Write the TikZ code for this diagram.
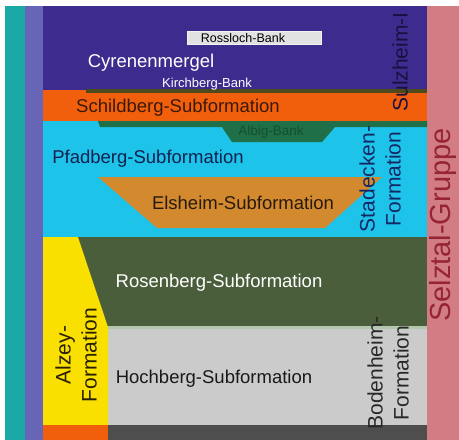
\documentclass[tikz,border=0pt]{standalone}
\usepackage{fontspec}
\setmainfont{Liberation Sans}
\definecolor{cteal}{HTML}{1AA9A5}
\definecolor{cperi}{HTML}{6766B6}
\definecolor{cpurple}{HTML}{3D2B8E}
\definecolor{corange}{HTML}{F15F0C}
\definecolor{colive}{HTML}{4C4A1C}
\definecolor{calbig}{HTML}{1F7048}
\definecolor{ccyan}{HTML}{1EC3EA}
\definecolor{celsheim}{HTML}{D38A2F}
\definecolor{cgreen}{HTML}{4A5E3B}
\definecolor{cyellow}{HTML}{FAE000}
\definecolor{cgrey}{HTML}{CBCBCB}
\definecolor{cdgrey}{HTML}{4E4E4E}
\definecolor{cpink}{HTML}{D27C84}
\definecolor{cpale}{HTML}{B3C6AE}
\definecolor{cbox}{HTML}{E2E2E2}
\definecolor{cselz}{HTML}{962434}
\tikzset{
  lbl/.style={inner sep=0pt, anchor=base, font=\fontsize{18.5}{22}\selectfont},
  small/.style={inner sep=0pt, anchor=base, font=\fontsize{12.5}{15}\selectfont},
  vlbl/.style={inner sep=0pt, rotate=90, align=center, font=\fontsize{21}{26}\selectfont}
}
\begin{document}
\begin{tikzpicture}[x=1pt,y=-1pt]
\useasboundingbox (0,0) rectangle (459,440);
\fill[white] (0,0) rectangle (459,440);
% side columns
\fill[cteal] (5,6) rectangle (25,440);
\fill[cperi] (25,6) rectangle (43,440);
\fill[cpink] (427,6) rectangle (459,440);
% layers
\fill[cpurple] (43,6) rectangle (427,92);
\fill[corange] (43,90) rectangle (427,121);
\fill[colive] (86,89) rectangle (427,93);
\fill[ccyan] (43,121) rectangle (427,237);
\fill[calbig] (98,121) -- (427,121) -- (427,127) -- (335,127) -- (322,142) -- (232,142) -- (222,127) -- (100,127) -- cycle;
\fill[celsheim] (98,177) -- (382,177) -- (325,228) -- (157,228) -- cycle;
\fill[cgreen] (43,237) rectangle (427,327);
\fill[cgrey] (43,327) rectangle (427,425);
\fill[cpale] (108,326) rectangle (427,329);
\fill[cdgrey] (43,425) rectangle (427,440);
\fill[cyellow] (43,237) -- (78,237) -- (108,327) -- (108,425) -- (43,425) -- cycle;
\fill[corange] (43,425) rectangle (108,440);
% Rossloch box
\fill[cbox] (187,31) rectangle (322,45);
\draw[white!90!gray, line width=0.6pt] (187.5,31.5) rectangle (321.5,44.5);
% labels
\node[small, text=black] (ross) at (243,42) {Rossloch-Bank};
\node[lbl, text=white] (cyr) at (151,67) {Cyrenenmergel};
\node[small, text=white, font=\fontsize{13}{15}\selectfont] (kirch) at (207,87) {Kirchberg-Bank};
\node[lbl, text={rgb,255:red,58;green,26;blue,10}] (schild) at (178,112) {Schildberg-Subformation};
\node[small, text={rgb,255:red,20;green,80;blue,45}, font=\fontsize{13.5}{15}\selectfont] (albig) at (271,135) {Albig-Bank};
\node[lbl, text={rgb,255:red,16;green,32;blue,80}] (pfad) at (148,163) {Pfadberg-Subformation};
\node[lbl, text={rgb,255:red,40;green,26;blue,16}] (els) at (243,209) {Elsheim-Subformation};
\node[lbl, text=white] (ros) at (219,287) {Rosenberg-Subformation};
\node[lbl, text={rgb,255:red,25;green,25;blue,25}] (hoch) at (214,383) {Hochberg-Subformation};
\node[vlbl, text={rgb,255:red,26;green,16;blue,64}] (sulz) at (400,62) {Sulzheim-I};
\node[vlbl, text={rgb,255:red,20;green,40;blue,100}] (stad) at (380,179) {Stadecken-\\Formation};
\node[vlbl, text={rgb,255:red,40;green,40;blue,40}] (boden) at (388,373) {Bodenheim-\\Formation};
\node[vlbl, text={rgb,255:red,40;green,32;blue,0}] (alzey) at (76,355) {Alzey-\\Formation};
\node[vlbl, text=cselz, font=\fontsize{29}{32}\selectfont] (selz) at (443,225) {Selztal-Gruppe};
\end{tikzpicture}
\end{document}
